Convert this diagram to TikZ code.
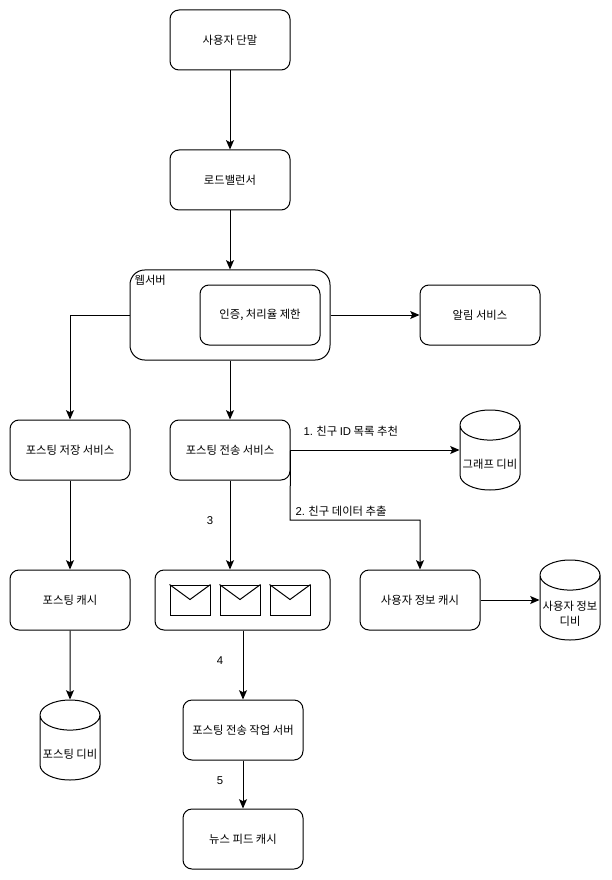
\documentclass[tikz,border=0pt]{standalone}
\usepackage{fontspec}
\newfontfamily\cjk{Noto Sans CJK KR}
\newfontfamily\lat{Liberation Sans}
\usetikzlibrary{arrows.meta,shapes.geometric}
\newcommand{\cylfill}{\phantom{그래프 디비}}
\tikzset{
  svcbox/.style={draw,rounded corners=6.75pt,line width=0.75pt,minimum width=90pt,minimum height=45pt,align=center},
  dbcyl/.style={draw,cylinder,shape border rotate=90,aspect=0.55,line width=0.75pt,minimum width=45pt,minimum height=60pt,inner sep=0pt,anchor=shape center},
  mailbox/.style={draw,line width=0.75pt,minimum width=30pt,minimum height=22.5pt,inner sep=0pt},
  conn/.style={-{Stealth[length=7pt,width=6pt,inset=1.5pt]},line width=0.75pt},
  lbl/.style={inner sep=1pt,align=center}
}
\begin{document}
\begin{tikzpicture}[font=\cjk\fontsize{8.5pt}{11.25pt}\selectfont,x=0.75pt,y=-0.75pt]
\useasboundingbox (0,0) rectangle (611,880);
\node[svcbox] (client) at (230,40) {사용자 단말};
\node[svcbox] (lb) at (230,180) {로드밸런서};
\node[draw,rounded corners=11pt,line width=0.75pt,minimum width=150pt,minimum height=67.5pt] (web) at (230,315) {};
\node[lbl,anchor=north west] (webtitle) at (133,274) {웹서버};
\node[svcbox] (auth) at (260,315) {인증, 처리율 제한};
\node[svcbox] (notify) at (480,315) {알림 서비스};
\node[svcbox] (store) at (70,450) {포스팅 저장 서비스};
\node[svcbox] (fanout) at (230,450) {포스팅 전송 서비스};
\node[svcbox] (postcache) at (70,600) {포스팅 캐시};
\node[dbcyl] (graphdb) at (490,450) {\cylfill};
\node[lbl] (graphtext) at (490,464) {그래프 디비};
\node[draw,rounded corners=6.75pt,line width=0.75pt,minimum width=131.25pt,minimum height=45pt] (queue) at (242.5,600) {};
\node[mailbox] (mail1) at (190,600) {};
\node[mailbox] (mail2) at (240,600) {};
\node[mailbox] (mail3) at (290,600) {};
\foreach \m in {mail1,mail2,mail3}
  \draw[line width=0.75pt] (\m.north west) -- ([yshift=-11.25pt]\m.north) -- (\m.north east);
\node[svcbox] (usercache) at (420,600) {사용자 정보 캐시};
\node[dbcyl] (userdb) at (570,600) {\cylfill};
\node[lbl] (usertext) at (570,614) {사용자 정보\\디비};
\node[dbcyl] (postdb) at (70,740) {\cylfill};
\node[lbl] (posttext) at (70,754) {포스팅 디비};
\node[svcbox] (worker) at (243,730) {포스팅 전송 작업 서버};
\node[svcbox] (feed) at (243,839) {뉴스 피드 캐시};
\coordinate (bend2) at (290,520);
\draw[conn] (client) -- (lb);
\draw[conn] (lb) -- (web);
\draw[conn] (web.west) -| (store.north);
\draw[conn] (web.east) -- (notify.west);
\draw[conn] (web) -- (fanout);
\draw[conn] (store) -- (postcache);
\draw[conn] (postcache) -- (postdb);
\draw[conn] (fanout.east) -- (graphdb.west |- fanout.east);
\draw[conn] (fanout.east) -- (bend2) -| (usercache.north);
\draw[conn] (fanout) -- (queue.north -| fanout);
\draw[conn] (usercache.east) -- (userdb.west |- usercache.east);
\draw[conn] (queue.south -| worker) -- (worker);
\draw[conn] (worker) -- (feed);
\node[lbl,anchor=west] (step1) at (302,431) {{\lat 1.} 친구 {\lat ID} 목록 추천};
\node[lbl,anchor=west] (step2) at (294,511) {{\lat 2.} 친구 데이터 추출};
\node[lbl] (step3) at (210,521) {\lat 3};
\node[lbl] (step4) at (220,661) {\lat 4};
\node[lbl] (step5) at (220,781) {\lat 5};
\end{tikzpicture}
\end{document}
